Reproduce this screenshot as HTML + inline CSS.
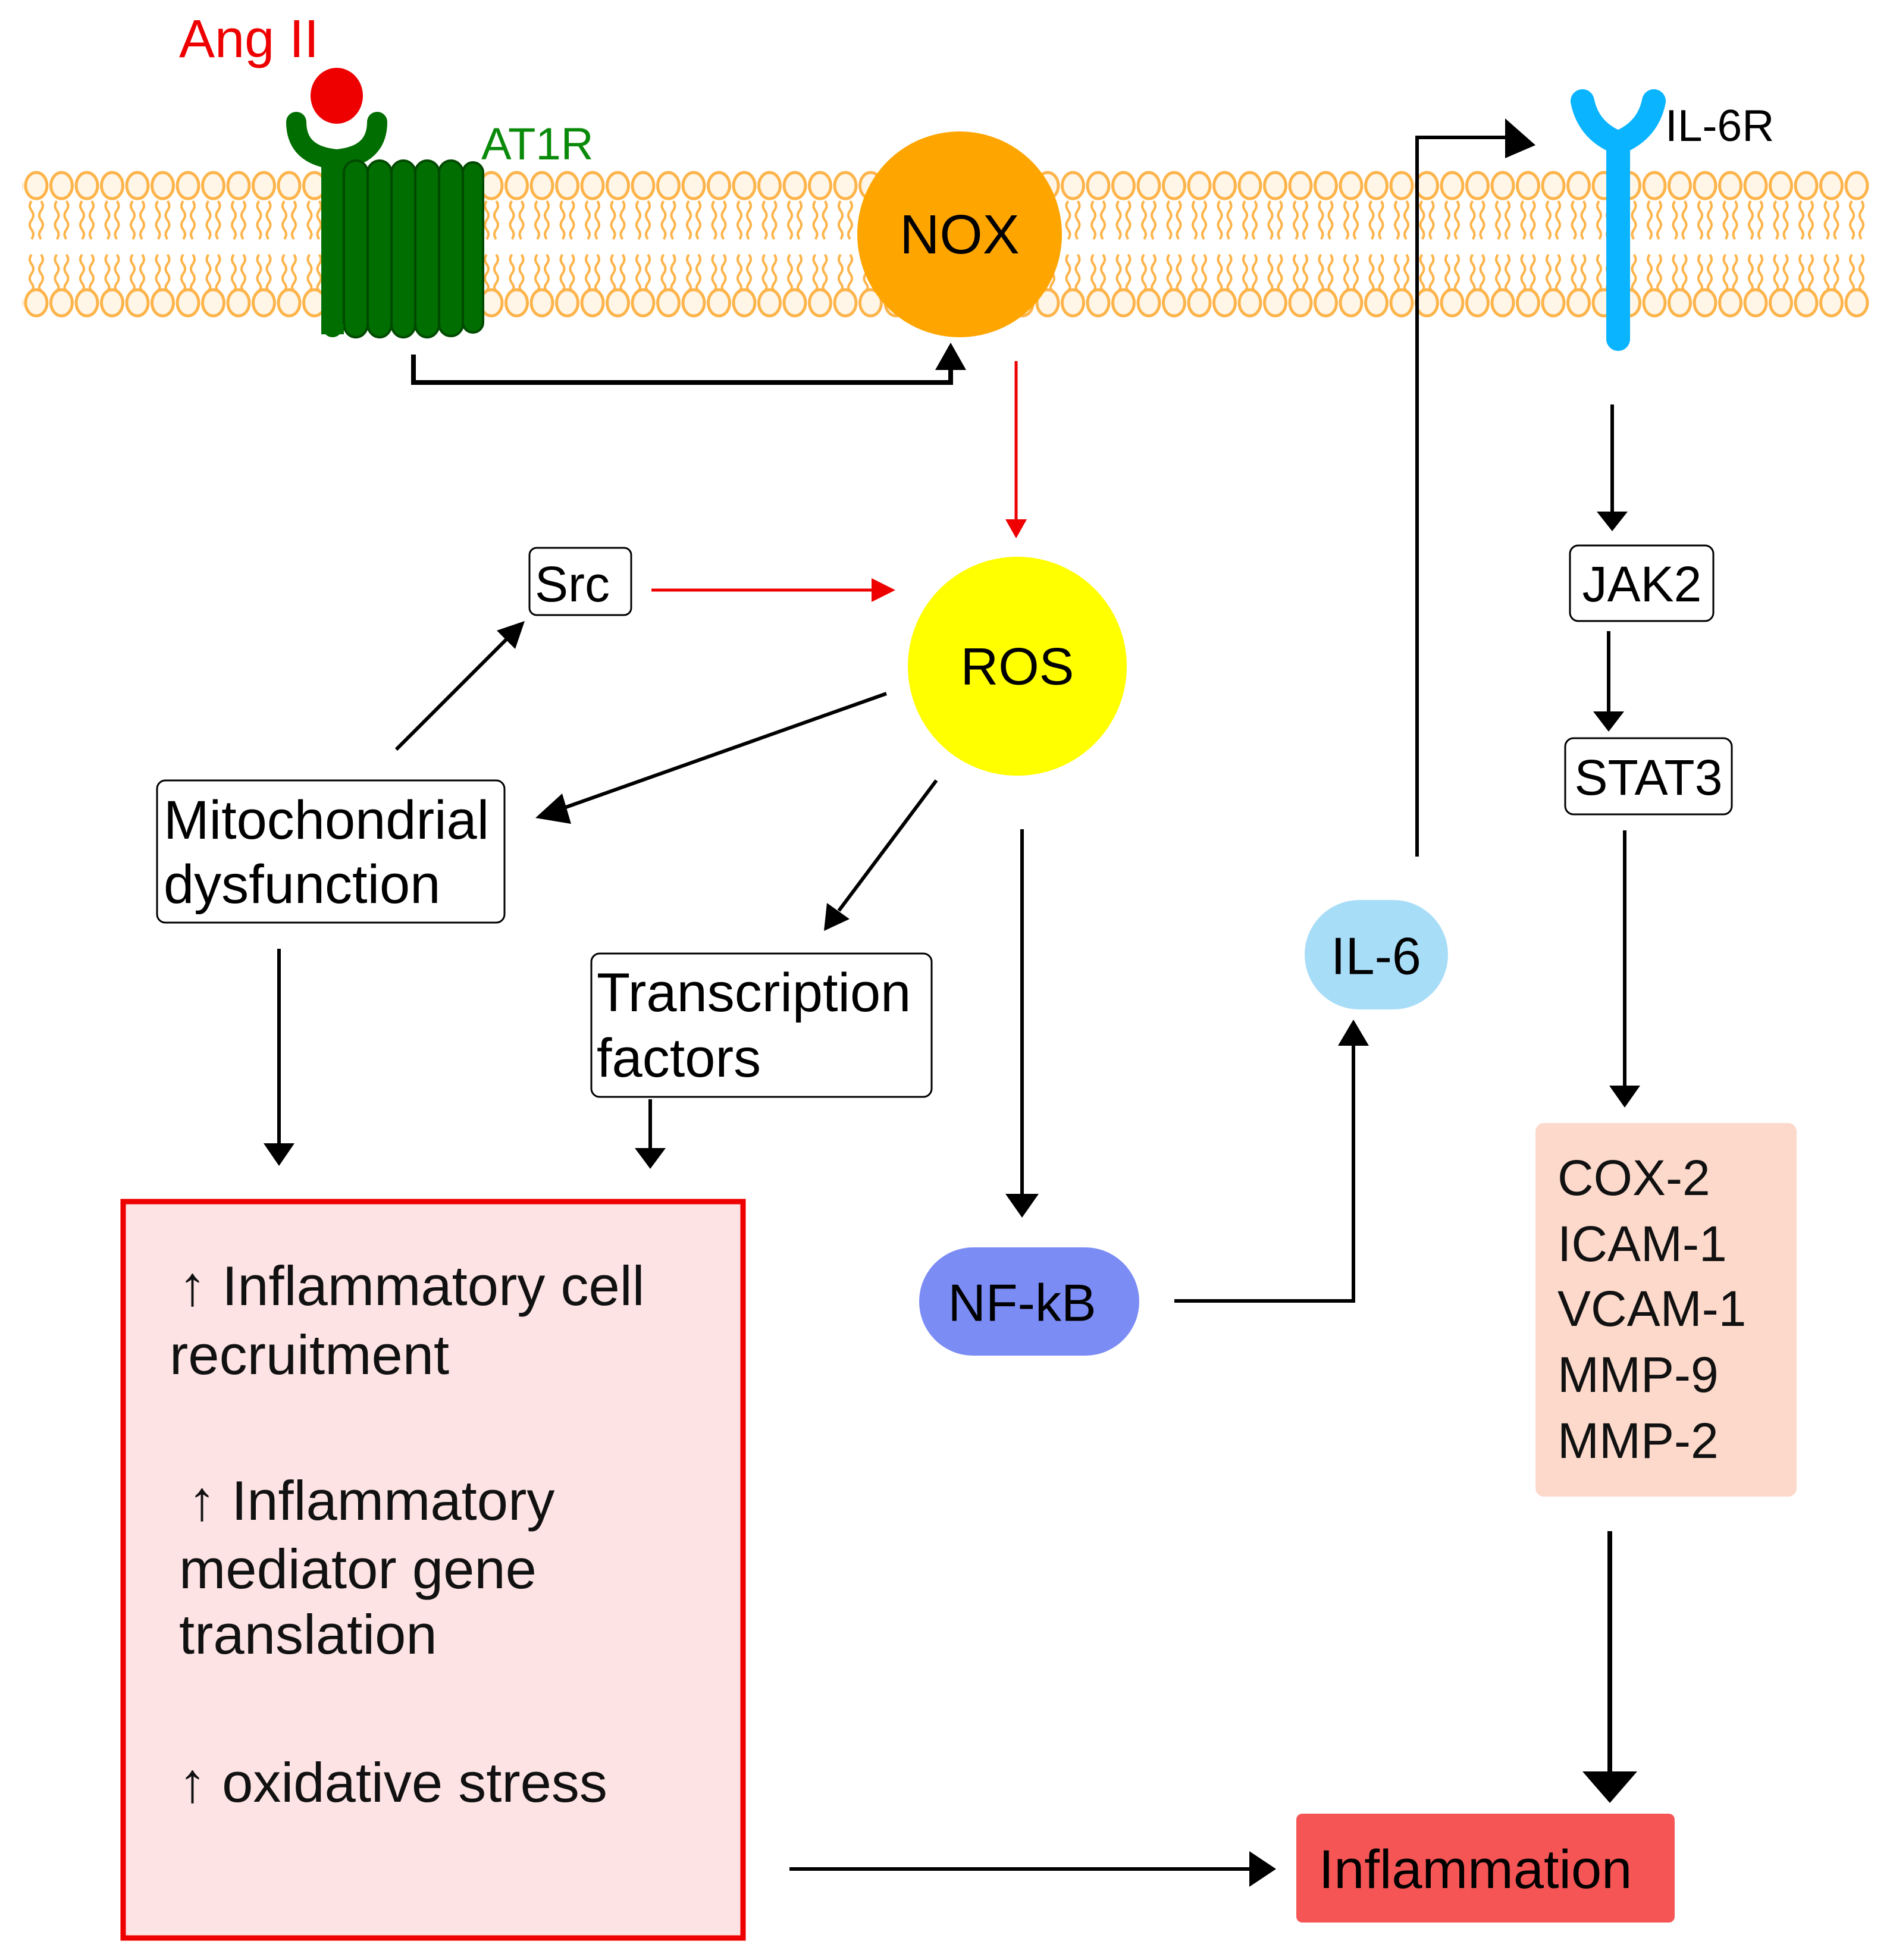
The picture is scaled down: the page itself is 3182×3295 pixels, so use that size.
<!DOCTYPE html>
<html><head><meta charset="utf-8">
<style>html,body{margin:0;padding:0;background:#fff}svg{display:block}</style></head>
<body>
<svg width="3182" height="3295" viewBox="0 0 3182 3295" xmlns="http://www.w3.org/2000/svg" font-family="'Liberation Sans', sans-serif">
<defs>
<pattern id="lip" x="40" y="0" width="42.5" height="3295" patternUnits="userSpaceOnUse">
  <ellipse cx="21" cy="312" rx="18" ry="22" fill="#FFF6E8" stroke="#FDB44B" stroke-width="5"/>
  <path d="M13 338 q-6 8 0 16 q6 8 0 16 q-6 8 0 16 q6 8 0 16" fill="none" stroke="#FDB44B" stroke-width="4"/>
  <path d="M29 338 q6 8 0 16 q-6 8 0 16 q6 8 0 16 q-6 8 0 16" fill="none" stroke="#FDB44B" stroke-width="4"/>
  <path d="M13 428 q-6 8 0 16 q6 8 0 16 q-6 8 0 16 q6 8 0 12" fill="none" stroke="#FDB44B" stroke-width="4"/>
  <path d="M29 428 q6 8 0 16 q-6 8 0 16 q6 8 0 16 q-6 8 0 12" fill="none" stroke="#FDB44B" stroke-width="4"/>
  <ellipse cx="21" cy="509" rx="18" ry="22" fill="#FFF6E8" stroke="#FDB44B" stroke-width="5"/>
</pattern>
</defs>
<rect width="3182" height="3295" fill="#fff"/>
<rect x="38" y="285" width="3104" height="250" fill="url(#lip)"/>

<!-- Ang II / AT1R -->
<text x="301" y="96" font-size="90" fill="#EE0000">Ang II</text>
<ellipse cx="566" cy="161" rx="44" ry="47" fill="#EE0000"/>
<path d="M498 205 Q498 262 566 268 Q634 262 634 205" fill="none" stroke="#006E00" stroke-width="34" stroke-linecap="round"/>
<rect x="540" y="262" width="38" height="300" fill="#006E00"/>
<g fill="#006E00" stroke="#004a00" stroke-width="4">
<path d="M578 290 a20 20 0 0 1 40 0 v255 a20 22 0 0 1 -40 0 z"/>
<path d="M618 290 a20 20 0 0 1 40 0 v255 a20 22 0 0 1 -40 0 z"/>
<path d="M658 290 a20 20 0 0 1 40 0 v255 a20 22 0 0 1 -40 0 z"/>
<path d="M698 290 a20 20 0 0 1 40 0 v255 a20 22 0 0 1 -40 0 z"/>
<path d="M738 290 a20 20 0 0 1 40 0 v255 a18 18 0 0 1 -40 0 z"/>
<path d="M778 290 a17 17 0 0 1 34 0 v252 a17 17 0 0 1 -34 0 z"/>
</g>
<path d="M540 545 a19 22 0 0 0 38 0" fill="#006E00"/>
<text x="809" y="268" font-size="76" fill="#0A8A0A">AT1R</text>

<!-- NOX -->
<ellipse cx="1613" cy="394" rx="172" ry="173" fill="#FFA500"/>
<text x="1613" y="394" font-size="93" text-anchor="middle" dominant-baseline="central">NOX</text>
<polyline points="695,596 695,643 1598,643 1598,605" fill="none" stroke="#000" stroke-width="8"/>
<polygon points="1598,576 1572,622 1624,622" fill="#000"/>

<!-- red NOX->ROS -->
<line x1="1708" y1="607" x2="1708" y2="875" stroke="#E00" stroke-width="5"/>
<polygon points="1708,905 1690,873 1726,873" fill="#E00"/>

<!-- IL-6R -->
<path d="M2660 170 Q2670 220 2720 240 Q2770 220 2780 170" fill="none" stroke="#0AB4FF" stroke-width="40" stroke-linecap="round"/>
<rect x="2700" y="232" width="40" height="340" fill="#0AB4FF"/>
<ellipse cx="2720" cy="570" rx="20" ry="20" fill="#0AB4FF"/>
<text x="2799" y="237" font-size="75">IL-6R</text>
<polyline points="2382,1440 2382,231 2545,231" fill="none" stroke="#000" stroke-width="6"/>
<polygon points="2581,244 2530,199 2530,266" fill="#000"/>

<!-- Src -->
<rect x="890" y="921" width="171" height="113" rx="12" fill="#fff" stroke="#000" stroke-width="3"/>
<text x="962" y="982" font-size="84" text-anchor="middle" dominant-baseline="central">Src</text>
<line x1="1095" y1="992" x2="1470" y2="992" stroke="#E00" stroke-width="5"/>
<polygon points="1505,992 1465,972 1465,1012" fill="#E00"/>

<!-- ROS -->
<circle cx="1710" cy="1120" r="184" fill="#FFFF00"/>
<text x="1710" y="1120" font-size="88" text-anchor="middle" dominant-baseline="central">ROS</text>

<!-- arrows from ROS -->
<line x1="1490" y1="1166" x2="940" y2="1361" stroke="#000" stroke-width="6"/>
<polygon points="900,1375 945,1334 960,1385" fill="#000"/>
<line x1="666" y1="1260" x2="855" y2="1071" stroke="#000" stroke-width="6"/>
<polygon points="882,1044 866,1091 835,1060" fill="#000"/>
<line x1="1574" y1="1312" x2="1410" y2="1531" stroke="#000" stroke-width="6"/>
<polygon points="1385,1565 1390,1518 1428,1545" fill="#000"/>
<line x1="1718" y1="1394" x2="1718" y2="2015" stroke="#000" stroke-width="6"/>
<polygon points="1718,2047 1690,2007 1746,2007" fill="#000"/>

<!-- Mito -->
<rect x="264" y="1312" width="584" height="239" rx="14" fill="#fff" stroke="#000" stroke-width="3"/>
<text x="275" y="1410" font-size="92">Mitochondrial</text>
<text x="275" y="1518" font-size="92">dysfunction</text>
<line x1="469" y1="1595" x2="469" y2="1925" stroke="#000" stroke-width="6"/>
<polygon points="469,1960 443,1922 495,1922" fill="#000"/>

<!-- TF -->
<rect x="994" y="1603" width="572" height="241" rx="14" fill="#fff" stroke="#000" stroke-width="3"/>
<text x="1003" y="1700" font-size="92">Transcription</text>
<text x="1003" y="1810" font-size="92">factors</text>
<line x1="1093" y1="1848" x2="1093" y2="1935" stroke="#000" stroke-width="6"/>
<polygon points="1093,1965 1067,1930 1119,1930" fill="#000"/>

<!-- Pink box -->
<rect x="207" y="2020" width="1042" height="1238" fill="#FDE3E4" stroke="#E00" stroke-width="9"/>
<g font-size="94" fill="#111">
<text x="300" y="2194">↑ Inflammatory cell</text>
<text x="285" y="2310">recruitment</text>
<text x="316" y="2555">↑ Inflammatory</text>
<text x="301" y="2670">mediator gene</text>
<text x="301" y="2780">translation</text>
<text x="300" y="3029">↑ oxidative stress</text>
</g>
<line x1="1327" y1="3142" x2="2105" y2="3142" stroke="#000" stroke-width="6"/>
<polygon points="2145,3142 2100,3112 2100,3172" fill="#000"/>

<!-- NF-kB -->
<rect x="1545" y="2097" width="370" height="182" rx="91" fill="#7B8CF5"/>
<text x="1718" y="2190" font-size="88" text-anchor="middle" dominant-baseline="central">NF-kB</text>
<polyline points="1974,2187 2275,2187 2275,1750" fill="none" stroke="#000" stroke-width="6"/>
<polygon points="2275,1714 2249,1758 2301,1758" fill="#000"/>

<!-- IL-6 -->
<rect x="2193" y="1513" width="241" height="184" rx="92" fill="#A8DDF8"/>
<text x="2313" y="1607" font-size="88" text-anchor="middle" dominant-baseline="central">IL-6</text>

<!-- JAK2/STAT3 -->
<line x1="2710" y1="680" x2="2710" y2="865" stroke="#000" stroke-width="6"/>
<polygon points="2710,893 2684,860 2736,860" fill="#000"/>
<rect x="2639" y="917" width="241" height="127" rx="14" fill="#fff" stroke="#000" stroke-width="3"/>
<text x="2760" y="982" font-size="84" text-anchor="middle" dominant-baseline="central">JAK2</text>
<line x1="2704" y1="1061" x2="2704" y2="1200" stroke="#000" stroke-width="6"/>
<polygon points="2704,1230 2678,1196 2730,1196" fill="#000"/>
<rect x="2631" y="1241" width="280" height="128" rx="14" fill="#fff" stroke="#000" stroke-width="3"/>
<text x="2771" y="1307" font-size="84" text-anchor="middle" dominant-baseline="central">STAT3</text>
<line x1="2731" y1="1396" x2="2731" y2="1830" stroke="#000" stroke-width="6"/>
<polygon points="2731,1862 2705,1825 2757,1825" fill="#000"/>

<!-- COX box -->
<rect x="2581" y="1888" width="439" height="628" rx="14" fill="#FCD9CB"/>
<g font-size="84" fill="#111" dominant-baseline="central">
<text x="2618" y="1980">COX-2</text>
<text x="2618" y="2091">ICAM-1</text>
<text x="2618" y="2200">VCAM-1</text>
<text x="2618" y="2311">MMP-9</text>
<text x="2618" y="2422">MMP-2</text>
</g>
<line x1="2706" y1="2574" x2="2706" y2="2985" stroke="#000" stroke-width="8"/>
<polygon points="2706,3031 2660,2978 2752,2978" fill="#000"/>

<!-- Inflammation -->
<rect x="2179" y="3049" width="636" height="183" rx="10" fill="#F65555"/>
<text x="2480" y="3143" font-size="92" text-anchor="middle" dominant-baseline="central">Inflammation</text>
</svg>
</body></html>
